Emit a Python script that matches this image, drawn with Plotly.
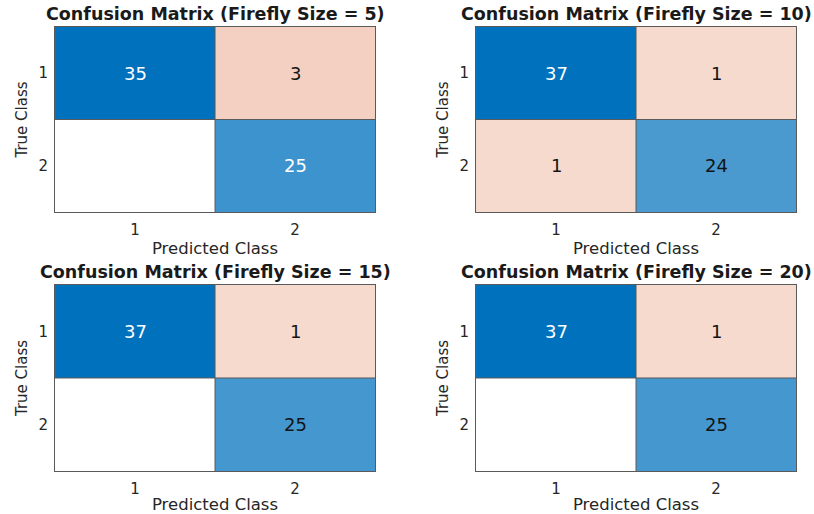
import plotly.graph_objects as go

# Confusion matrices for each firefly population size (rows = true, cols = predicted)
firefly_sizes = [5, 10, 15, 20]
cm_size5 = [[35, 3], [0, 25]]
cm_size10 = [[37, 1], [1, 24]]
cm_size15 = [[37, 1], [0, 25]]
cm_size20 = [[37, 1], [0, 25]]
matrices = [cm_size5, cm_size10, cm_size15, cm_size20]
class_labels = ["1", "2"]

FONT = "DejaVu Sans"
TEXT_GREY = "#262626"
EDGE = "#5a5a5a"

# diagonal: white -> blue ; off-diagonal: white -> pale orange
diag_scale = [[0.0, "rgb(255,255,255)"], [0.65, "rgb(74,154,208)"], [1.0, "rgb(0,114,189)"]]
off_scale = [[0.0, "rgb(255,255,255)"], [1 / 3, "rgb(245,218,205)"], [1.0, "rgb(243,208,193)"]]

x_domains = [[0.0676, 0.4607], [0.5848, 0.9779]]
y_domains = [[0.5875, 0.9475], [0.0837, 0.4455]]


def parse_rgb(s):
    return [float(v) for v in s[s.index("(") + 1:s.index(")")].split(",")]


def scale_color(scale, t):
    t = max(0.0, min(1.0, t))
    for (t0, c0), (t1, c1) in zip(scale[:-1], scale[1:]):
        if t0 <= t <= t1:
            a, b = parse_rgb(c0), parse_rgb(c1)
            f = 0 if t1 == t0 else (t - t0) / (t1 - t0)
            return [a[k] + (b[k] - a[k]) * f for k in range(3)]
    return parse_rgb(scale[-1][1])


off_max = max(m[i][j] for m in matrices for i in range(2) for j in range(2) if i != j)

fig = go.Figure()
layout = dict(
    width=814, height=514, autosize=False,
    margin=dict(l=0, r=0, t=0, b=0),
    paper_bgcolor="white", plot_bgcolor="white",
    showlegend=False, annotations=[], shapes=[],
    font=dict(family=FONT, color=TEXT_GREY),
)

n = len(class_labels)
xs = list(range(1, n + 1))

for k, (size, cm) in enumerate(zip(firefly_sizes, matrices)):
    row, col = divmod(k, 2)
    sfx = "" if k == 0 else str(k + 1)
    xa, ya = "x" + sfx, "y" + sfx
    diag_max = max(cm[i][i] for i in range(n))

    z_diag = [[cm[i][j] if i == j else None for j in range(n)] for i in range(n)]
    z_off = [[cm[i][j] if i != j else None for j in range(n)] for i in range(n)]

    fig.add_trace(go.Heatmap(x=xs, y=xs, z=z_off, colorscale=off_scale, zmin=0, zmax=off_max,
                             showscale=False, xaxis=xa, yaxis=ya, hoverinfo="skip"))
    fig.add_trace(go.Heatmap(x=xs, y=xs, z=z_diag, colorscale=diag_scale, zmin=0, zmax=diag_max,
                             showscale=False, xaxis=xa, yaxis=ya, hoverinfo="skip"))

    # cell counts, text colour chosen for contrast with the cell
    for i in range(n):
        for j in range(n):
            v = cm[i][j]
            if v == 0:
                continue
            if i == j:
                rgb = scale_color(diag_scale, v / diag_max)
            else:
                rgb = scale_color(off_scale, v / off_max)
            bright = (rgb[0] * 299 + rgb[1] * 587 + rgb[2] * 114) / 1000
            layout["annotations"].append(dict(
                x=xs[j], y=xs[i], xref=xa, yref=ya, text=str(v), showarrow=False,
                font=dict(family=FONT, size=18, color="white" if bright < 128 else "#141414"),
            ))

    # inner cell dividers
    for b in range(1, n):
        layout["shapes"].append(dict(type="line", xref=xa, yref=ya, x0=b + 0.5, x1=b + 0.5,
                                     y0=0.5, y1=n + 0.5, line=dict(color=EDGE, width=1)))
        layout["shapes"].append(dict(type="line", xref=xa, yref=ya, x0=0.5, x1=n + 0.5,
                                     y0=b + 0.5, y1=b + 0.5, line=dict(color=EDGE, width=1)))

    # panel title
    layout["annotations"].append(dict(
        x=0.5, y=1, xref=xa + " domain", yref=ya + " domain", yanchor="middle", yshift=13,
        text=f"<b>Confusion Matrix (Firefly Size = {size})</b>", showarrow=False,
        font=dict(family=FONT, size=17.5, color="#1a1a1a"),
    ))

    layout["xaxis" + sfx] = dict(
        domain=x_domains[col], anchor=ya, range=[0.5, n + 0.5],
        tickvals=xs, ticktext=class_labels, showgrid=False, zeroline=False,
        showline=True, mirror=True, linecolor=EDGE, linewidth=1,
        ticks="outside", ticklen=4, tickcolor="rgba(0,0,0,0)",
        tickfont=dict(family=FONT, size=15, color=TEXT_GREY),
        title=dict(text="Predicted Class", standoff=4, font=dict(family=FONT, size=16.5, color=TEXT_GREY)),
        fixedrange=True,
    )
    layout["yaxis" + sfx] = dict(
        domain=y_domains[row], anchor=xa, range=[n + 0.5, 0.5],
        tickvals=xs, ticktext=class_labels, showgrid=False, zeroline=False,
        showline=True, mirror=True, linecolor=EDGE, linewidth=1,
        ticks="outside", ticklen=3, tickcolor="rgba(0,0,0,0)",
        tickfont=dict(family=FONT, size=15, color=TEXT_GREY),
        title=dict(text="True Class", standoff=7, font=dict(family=FONT, size=15, color=TEXT_GREY)),
        fixedrange=True,
    )

fig.update_layout(**layout)
fig.write_html("out.html", config={"displayModeBar": False})
